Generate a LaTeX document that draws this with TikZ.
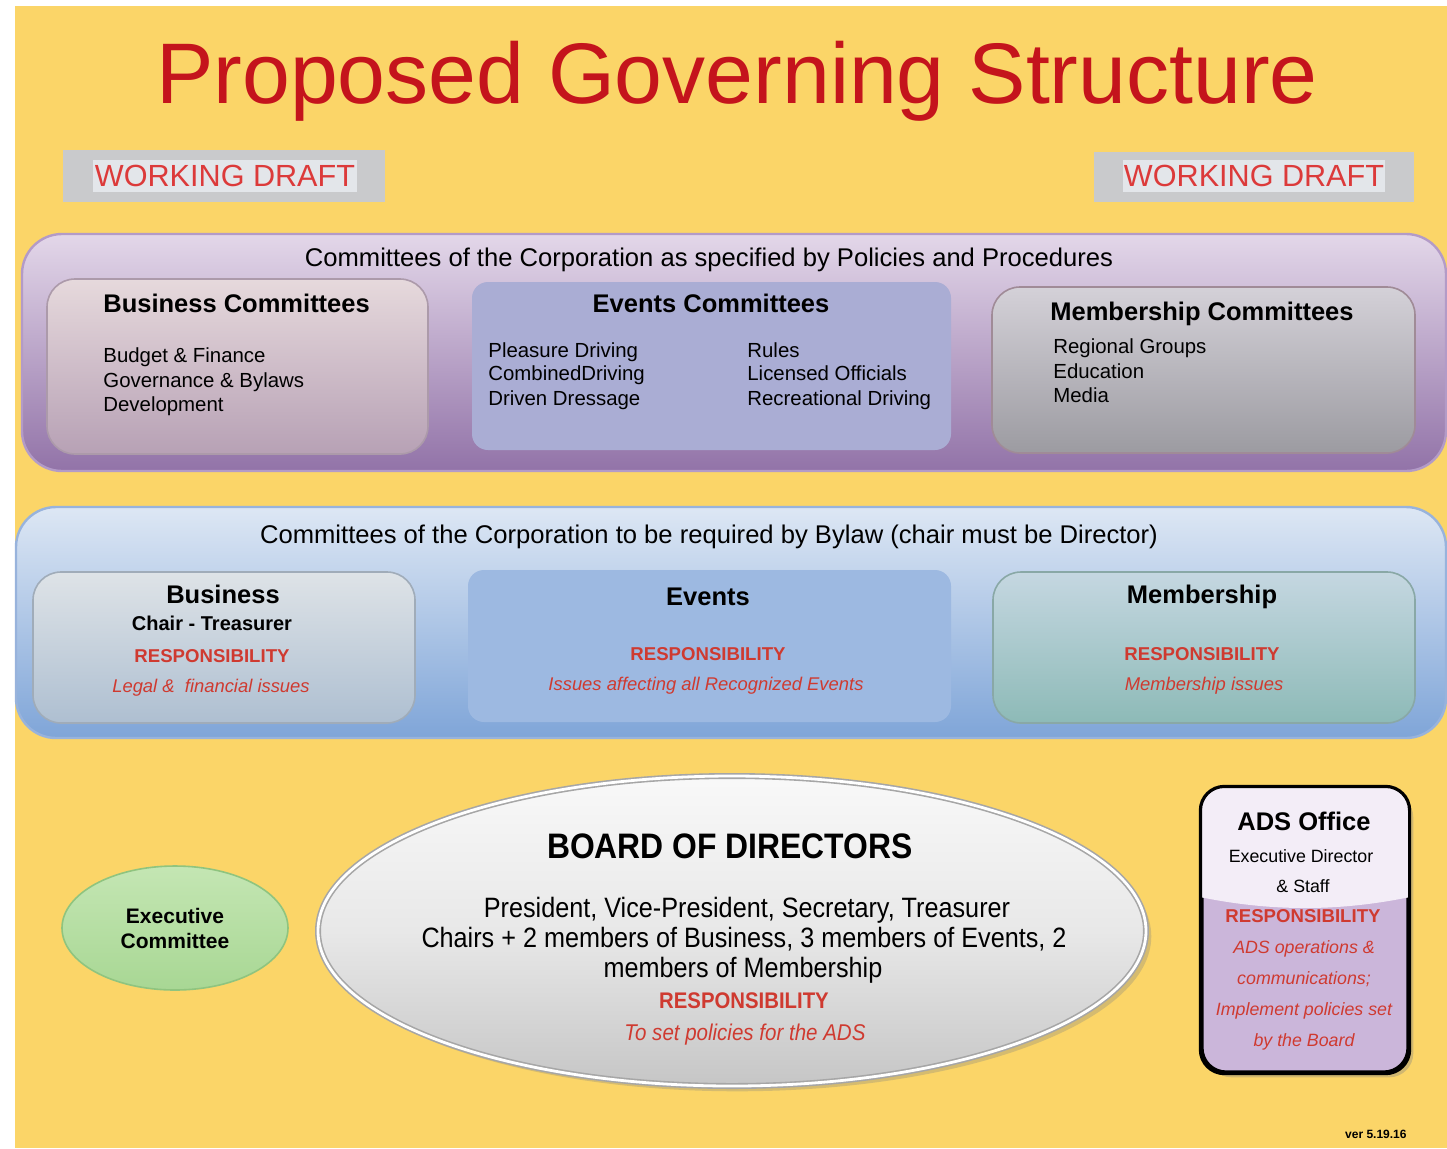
\documentclass[tikz,border=0pt]{standalone}
\usepackage{fontspec}
\setmainfont{Liberation Sans}
\newfontfamily\narrowfont{Liberation Sans}[FakeStretch=0.9]
\usetikzlibrary{positioning}
\usetikzlibrary{shapes.geometric}
\usetikzlibrary{shadows}
\definecolor{bgyellow}{HTML}{FBD568}
\definecolor{titlered}{HTML}{C4141C}
\definecolor{draftred}{HTML}{DC3A3A}
\definecolor{draftgrey}{HTML}{C9CACC}
\definecolor{draftpale}{HTML}{E3E6EA}
\definecolor{respred}{HTML}{CF3A30}
\definecolor{purptop}{HTML}{E3D7E9}
\definecolor{purpbot}{HTML}{9273A8}
\definecolor{purpline}{HTML}{B39BC7}
\definecolor{biztop}{HTML}{E6D9DC}
\definecolor{bizbot}{HTML}{B7A1B5}
\definecolor{evfill}{HTML}{AAADD4}
\definecolor{memtop}{HTML}{D4D1D8}
\definecolor{membot}{HTML}{9C9BA1}
\definecolor{bluetop}{HTML}{DDE7F4}
\definecolor{bluebot}{HTML}{7FA5D8}
\definecolor{blueline}{HTML}{98B3DC}
\definecolor{biztwotop}{HTML}{DEE3E7}
\definecolor{biztwobot}{HTML}{AEBFD1}
\definecolor{evtwo}{HTML}{9DB9E1}
\definecolor{memtwotop}{HTML}{C5D7E1}
\definecolor{memtwobot}{HTML}{8DBAB7}
\definecolor{exectop}{HTML}{C4E6B3}
\definecolor{execbot}{HTML}{A8D794}
\definecolor{execline}{HTML}{8FC47F}
\definecolor{adshigh}{HTML}{F3EDF7}
\definecolor{adslow}{HTML}{CBB6DA}
\tikzstyle{band} = [draw, line width=1.2pt, rounded corners=20pt]
\tikzstyle{combox} = [draw, line width=0.8pt, rounded corners=14pt]
\tikzstyle{flatbox} = [rounded corners=8pt]
\tikzstyle{draftbox} = [fill=draftgrey]
\tikzstyle{draftin} = [fill=draftpale]
\tikzstyle{titletext} = [font=\fontsize{43}{50}\selectfont, text=titlered, inner sep=0, anchor=base]
\tikzstyle{drafttext} = [font=\fontsize{15.3}{18}\selectfont, text=draftred, inner sep=0, anchor=base]
\tikzstyle{headtext} = [font=\fontsize{12.8}{15}\selectfont, inner sep=0, anchor=base]
\tikzstyle{boxtitle} = [font=\bfseries\fontsize{12.75}{15}\selectfont, inner sep=0]
\tikzstyle{item} = [font=\fontsize{10.2}{12}\selectfont, inner sep=0, anchor=base west]
\tikzstyle{subtitle} = [font=\bfseries\fontsize{10}{12}\selectfont, inner sep=0, anchor=base]
\tikzstyle{resp} = [font=\bfseries\fontsize{9.3}{11}\selectfont, text=respred, inner sep=0, anchor=base]
\tikzstyle{respnote} = [font=\itshape\fontsize{9.2}{11}\selectfont, text=respred, inner sep=0, anchor=base]
\tikzstyle{smalltext} = [font=\fontsize{8.9}{11}\selectfont, inner sep=0, anchor=base]
\tikzstyle{boardtext} = [font=\narrowfont\fontsize{14}{16}\selectfont, inner sep=0, anchor=base]

\begin{document}
\begin{tikzpicture}[x=0.5pt, y=-0.5pt]
    \useasboundingbox (0,0) rectangle (1447,1148);
    \fill[white] (0,0) rectangle (1447,1148);
    \fill[bgyellow] (15,6) rectangle (1447,1148);

    \node[titletext] (title) at (737,103) {Proposed Governing Structure};

    \node[draftbox, minimum width=161pt, minimum height=26pt] (draft_l) at (224,176) {};
    \node[draftin, minimum width=132pt, minimum height=16pt] (draft_lin) at (225,176) {};
    \node[drafttext] (draft_ltext) at (225,186) {WORKING DRAFT};
    \node[draftbox, minimum width=160pt, minimum height=25pt] (draft_r) at (1254,177) {};
    \node[draftin, minimum width=131pt, minimum height=16pt] (draft_rin) at (1254,176) {};
    \node[drafttext] (draft_rtext) at (1254,186) {WORKING DRAFT};

    % committees by policies and procedures
    \node[band, draw=purpline, top color=purptop, bottom color=purpbot,
        minimum width=712pt, minimum height=118.5pt] (policy_band) at (734,352.5) {};
    \node[headtext] (policy_head) at (709,266)
        {Committees of the Corporation as specified by Policies and Procedures};

    \node[combox, draw=bizbot!80!gray, top color=biztop, bottom color=bizbot,
        minimum width=190.5pt, minimum height=87.5pt] (biz_com) at (237.5,366.5) {};
    \node[boxtitle, anchor=base west] (biz_title) at (103,312) {Business Committees};
    \node[item] (biz_a) at (103,362) {Budget \& Finance};
    \node[item] (biz_b) at (103,387) {Governance \& Bylaws};
    \node[item] (biz_c) at (103,411) {Development};

    \node[flatbox, fill=evfill, minimum width=239.5pt, minimum height=84pt] (ev_com) at (711.5,366) {};
    \node[boxtitle, anchor=base] (ev_title) at (711,312) {Events Committees};
    \node[item] (ev_a) at (488,357) {Pleasure Driving};
    \node[item] (ev_b) at (488,380) {CombinedDriving};
    \node[item] (ev_c) at (488,405) {Driven Dressage};
    \node[item] (ev_d) at (747,357) {Rules};
    \node[item] (ev_e) at (747,380) {Licensed Officials};
    \node[item] (ev_f) at (747,405) {Recreational Driving};

    \node[combox, draw=membot!90!purple, top color=memtop, bottom color=membot,
        minimum width=211.5pt, minimum height=83pt] (mem_com) at (1203.5,370) {};
    \node[boxtitle, anchor=base west] (mem_title) at (1050,320) {Membership Committees};
    \node[item] (mem_a) at (1053,353) {Regional Groups};
    \node[item] (mem_b) at (1053,378) {Education};
    \node[item] (mem_c) at (1053,402) {Media};

    % committees required by bylaw
    \node[band, draw=blueline, top color=bluetop, bottom color=bluebot,
        minimum width=715pt, minimum height=115.5pt] (bylaw_band) at (731,622.5) {};
    \node[headtext] (bylaw_head) at (709,543)
        {Committees of the Corporation to be required by Bylaw (chair must be Director)};

    \node[combox, draw=biztwobot!70!gray, top color=biztwotop, bottom color=biztwobot,
        minimum width=191pt, minimum height=75.5pt] (biz_req) at (224,647.5) {};
    \node[boxtitle, anchor=base] (biz_req_title) at (223,603) {Business};
    \node[subtitle] (biz_req_chair) at (212,630) {Chair - Treasurer};
    \node[resp] (biz_req_resp) at (212,662) {RESPONSIBILITY};
    \node[respnote] (biz_req_note) at (211,692) {Legal \&\ \ financial issues};

    \node[flatbox, fill=evtwo, minimum width=241.5pt, minimum height=76pt] (ev_req) at (709.5,646) {};
    \node[boxtitle, anchor=base] (ev_req_title) at (708,605) {Events};
    \node[resp] (ev_req_resp) at (708,660) {RESPONSIBILITY};
    \node[respnote] (ev_req_note) at (706,690) {Issues affecting all Recognized Events};

    \node[combox, draw=memtwobot!70!gray, top color=memtwotop, bottom color=memtwobot,
        minimum width=211pt, minimum height=75.5pt] (mem_req) at (1204,647.5) {};
    \node[boxtitle, anchor=base] (mem_req_title) at (1202,603) {Membership};
    \node[resp] (mem_req_resp) at (1202,660) {RESPONSIBILITY};
    \node[respnote] (mem_req_note) at (1204,690) {Membership issues};

    % executive committee
    \node[ellipse, draw=execline, line width=0.8pt, top color=exectop, bottom color=execbot,
        minimum width=113pt, minimum height=62pt] (exec) at (175,928) {};
    \node[subtitle, font=\bfseries\fontsize{10.5}{12}\selectfont] (exec_a) at (175,923) {Executive};
    \node[subtitle, font=\bfseries\fontsize{10.5}{12}\selectfont] (exec_b) at (175,948) {Committee};

    % board of directors
    \node[ellipse, draw=gray!70, double=white, double distance=1.4pt, line width=0.8pt,
        top color=gray!5, bottom color=gray!45, middle color=gray!18, drop shadow={opacity=0.3},
        minimum width=414pt, minimum height=155pt] (board) at (732,931) {};
    \node[boardtext, font=\narrowfont\bfseries\fontsize{17.7}{20}\selectfont] (board_title) at (730,858) {BOARD OF DIRECTORS};
    \node[boardtext] (board_a) at (747,917) {President, Vice-President, Secretary, Treasurer};
    \node[boardtext] (board_b) at (744,947) {Chairs + 2 members of Business, 3 members of Events, 2};
    \node[boardtext] (board_c) at (743,977) {members of Membership};
    \node[resp, font=\narrowfont\bfseries\fontsize{11.3}{13}\selectfont] (board_resp) at (744,1008) {RESPONSIBILITY};
    \node[respnote, font=\narrowfont\itshape\fontsize{11.4}{13}\selectfont] (board_note) at (745,1040) {To set policies for the ADS};

    % ADS office
    \node[draw=black, line width=1.6pt, rounded corners=12pt, fill=adslow, drop shadow={opacity=0.35},
        minimum width=103pt, minimum height=142pt] (ads) at (1305,930) {};
    \begin{scope}
        \clip[rounded corners=12pt] (ads.north west) rectangle (ads.south east);
        \fill[adshigh] (1195,780) -- (1415,780) -- (1415,896) .. controls (1340,912) and (1270,912) .. (1195,896) -- cycle;
    \end{scope}
    \draw[line width=1.6pt, rounded corners=12pt] (ads.north west) rectangle (ads.south east);
    \node[boxtitle, anchor=base] (ads_title) at (1304,830) {ADS Office};
    \node[smalltext] (ads_a) at (1301,862) {Executive Director};
    \node[smalltext] (ads_b) at (1303,892) {\& Staff};
    \node[resp] (ads_resp) at (1303,922) {RESPONSIBILITY};
    \node[respnote, font=\itshape\fontsize{8.9}{11}\selectfont] (ads_c) at (1304,953) {ADS operations \&};
    \node[respnote, font=\itshape\fontsize{8.9}{11}\selectfont] (ads_d) at (1304,984) {communications;};
    \node[respnote, font=\itshape\fontsize{8.9}{11}\selectfont] (ads_e) at (1304,1015) {Implement policies set};
    \node[respnote, font=\itshape\fontsize{8.9}{11}\selectfont] (ads_f) at (1304,1046) {by the Board};

    \node[inner sep=0, anchor=base east, font=\bfseries\fontsize{6}{7}\selectfont] (version) at (1407,1138) {ver 5.19.16};
\end{tikzpicture}
\end{document}
